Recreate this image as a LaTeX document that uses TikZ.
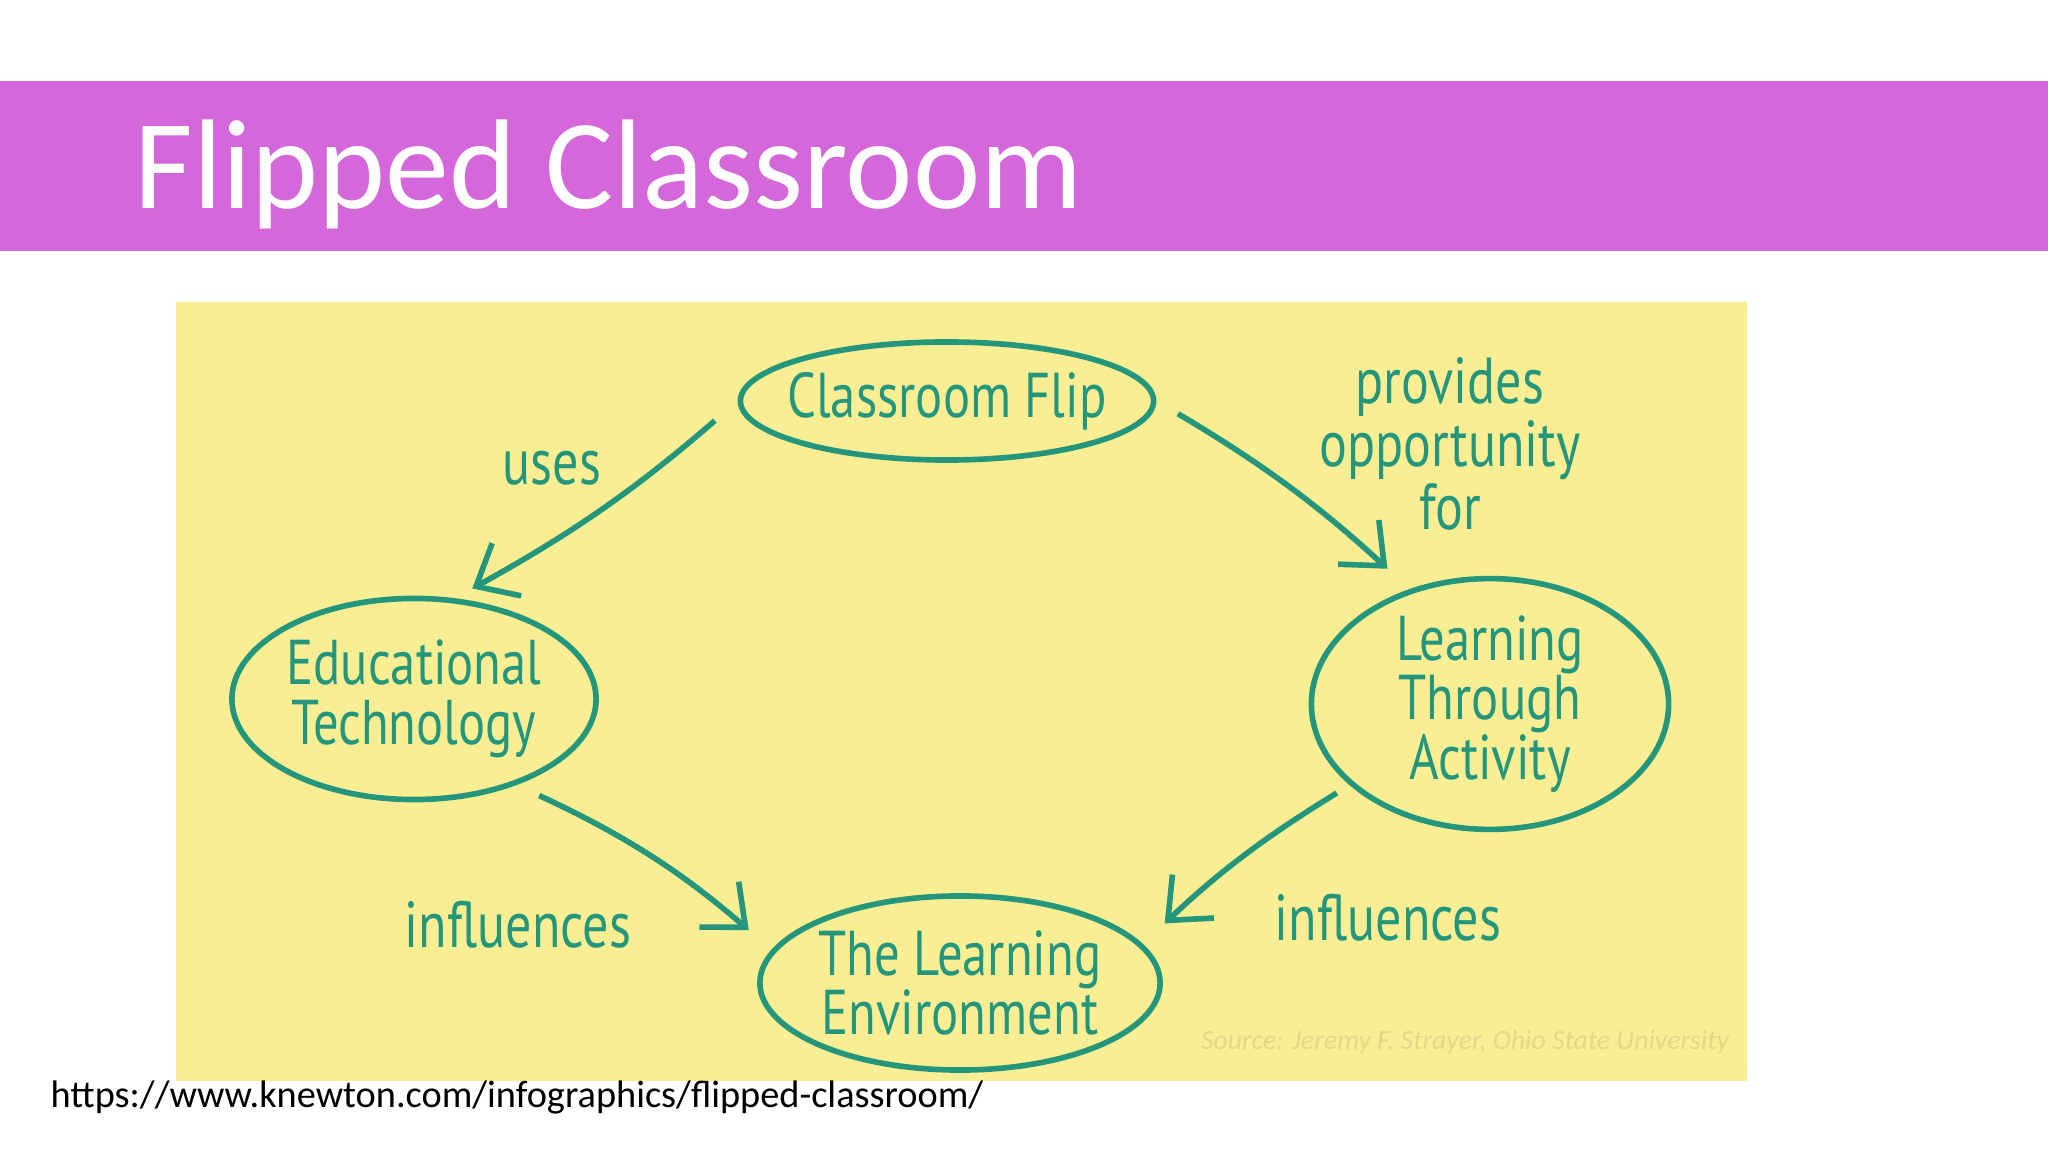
\documentclass[tikz,border=0pt]{standalone}
\usepackage{fontspec}
\setmainfont{Carlito}
\newfontfamily\handfont[FakeStretch=0.8]{PT Sans}
\usetikzlibrary{shapes.geometric, arrows.meta, positioning}

\definecolor{bandpurple}{RGB}{212,104,218}
\definecolor{notepad}{RGB}{249,238,147}
\definecolor{inkteal}{RGB}{36,150,124}
\definecolor{faint}{RGB}{226,216,138}

\tikzset{
  idea/.style={ellipse, draw=inkteal, line width=1.6pt, text=inkteal, inner sep=0pt,
    align=center, font=\handfont\fontsize{18}{17}\selectfont},
  link/.style={-{Straight Barb[length=3.5mm,width=6mm]}, draw=inkteal, line width=1.6pt},
  say/.style={text=inkteal, align=center, font=\handfont\fontsize{18.5}{15.6}\selectfont},
}

\begin{document}
\begin{tikzpicture}[x=0.01cm, y=-0.01cm]
\useasboundingbox (0,0) rectangle (2048,1152);
% slide
\fill[white] (0,0) rectangle (2048,1152);
\fill[bandpurple] (0,81) rectangle (2048,251);
\node[anchor=base west, inner sep=0pt, text=white, font=\fontsize{36.3}{40}\selectfont] (title) at (134,209) {Flipped Classroom};
\fill[notepad] (176,302) rectangle (1747,1081);

% ideas
\node[idea, inner xsep=-0.15cm, minimum width=4.13cm, minimum height=1.18cm] (flip) at (947,401) {Classroom Flip};
\node[idea, minimum width=3.64cm, minimum height=2.01cm] (edu) at (414,699) {Educational\\Technology};
\node[idea, minimum width=3.57cm, minimum height=2.32cm] (lta) at (1490,704) {Learning\\Through\\Activity};
\node[idea, minimum width=4.00cm, minimum height=1.74cm] (tle) at (960,983) {The Learning\\Environment};

% links
\draw[link, shorten <=0.3cm, shorten >=0.2cm] (flip.west) to[bend left=6] (edu.68);
\draw[link, shorten <=0.25cm, shorten >=0.3cm] (flip.east) to[bend left=6] (lta.125);
\draw[link, shorten <=0.25cm, shorten >=0.3cm] (edu.-40) to[bend left=8] (tle.170);
\draw[link, shorten <=0.15cm, shorten >=0.3cm] (lta.-150) to[bend right=6] (tle.12);

% labels
\node[say] (uses) at (552,468) {uses};
\node[say] (gives) at (1450,444) {provides\\opportunity\\for};
\node[say] (infl) at (518,925) {influences};
\node[say] (infr) at (1388,918) {influences};

\node[text=faint, font=\itshape\fontsize{7.9}{9}\selectfont] (source) at (1465,1042) {Source: Jeremy F. Strayer, Ohio State University};
\node[anchor=base west, inner sep=0pt, font=\fontsize{10.9}{13}\selectfont] (url) at (50,1107) {https://www.knewton.com/infographics/flipped-classroom/};
\end{tikzpicture}
\end{document}
